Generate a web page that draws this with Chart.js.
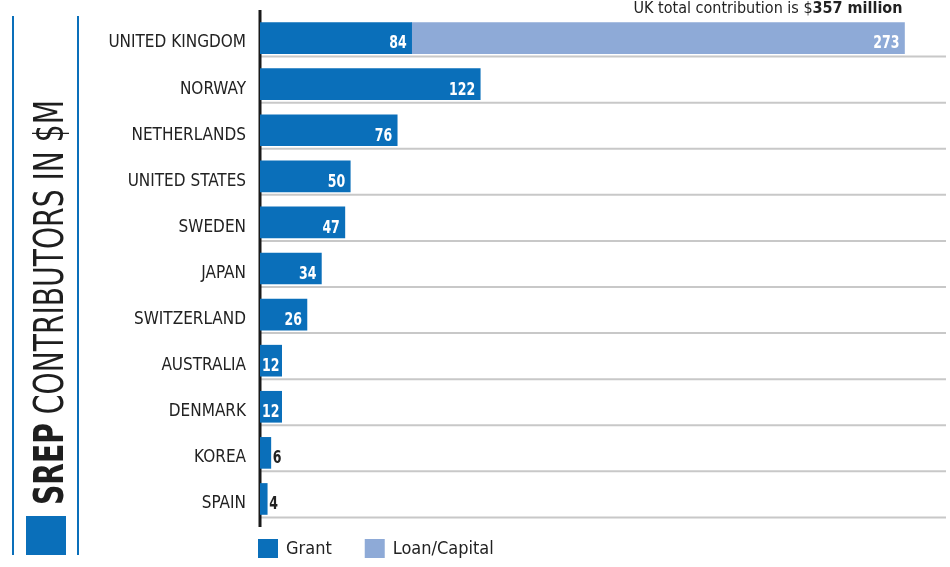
<!DOCTYPE html>
<html>
<head>
<meta charset="utf-8">
<script src="https://cdn.jsdelivr.net/npm/chart.js@4"></script>
<style>
  html, body { margin: 0; padding: 0; background: #fff; }
  #wrap { width: 950px; height: 567px; position: relative; }
</style>
</head>
<body>
<div id="wrap"><canvas id="graphique"></canvas></div>
<script>
// données
var pays = ['UNITED KINGDOM', 'NORWAY', 'NETHERLANDS', 'UNITED STATES', 'SWEDEN', 'JAPAN',
            'SWITZERLAND', 'AUSTRALIA', 'DENMARK', 'KOREA', 'SPAIN'];
var grant = [84, 122, 76, 50, 47, 34, 26, 12, 12, 6, 4];
var loanCapital = [273, null, null, null, null, null, null, null, null, null, null];
var noteTexte = ['UK total contribution is $', '357 million'];
var titreGras = 'SREP';
var titreReste = ' CONTRIBUTORS IN $M';

var BLEU = '#0a6fba';
var BLEU_CLAIR = '#8eaad7';
var POLICE = '"Liberation Sans Narrow", "DejaVu Sans Condensed", "Arial Narrow", sans-serif';
var DEMI_BARRE = 15.5;
var SERRE = 0.82; // compression horizontale des chiffres

// dessin des décorations : titre vertical, lignes de grille, étiquettes, légende
var decor = {
  id: 'decor',
  beforeDatasetsDraw: function(chart) {
    var ctx = chart.ctx, area = chart.chartArea, y = chart.scales.y;
    ctx.save();
    ctx.strokeStyle = '#c8c8c8';
    ctx.lineWidth = 2;
    for (var i = 0; i < pays.length; i++) {
      var py = y.getPixelForValue(i) + DEMI_BARRE + 3;
      ctx.beginPath();
      ctx.moveTo(area.left, py);
      ctx.lineTo(946, py);
      ctx.stroke();
    }
    // l'axe dépasse un peu en haut et en bas
    ctx.strokeStyle = '#1a1a1a';
    ctx.lineWidth = 3;
    ctx.beginPath();
    ctx.moveTo(area.left, 10);
    ctx.lineTo(area.left, 527);
    ctx.stroke();
    ctx.restore();
  },
  afterDraw: function(chart) {
    var ctx = chart.ctx, x = chart.scales.x, y = chart.scales.y, area = chart.chartArea;
    ctx.save();

    // cadre du titre
    ctx.strokeStyle = BLEU;
    ctx.lineWidth = 2;
    ctx.beginPath();
    ctx.moveTo(13, 16); ctx.lineTo(13, 555);
    ctx.moveTo(78, 16); ctx.lineTo(78, 555);
    ctx.stroke();
    ctx.fillStyle = BLEU;
    ctx.fillRect(26, 516, 40, 39);

    // titre vertical
    ctx.save();
    ctx.translate(63, 505);
    ctx.rotate(-Math.PI / 2);
    ctx.font = 'bold 40px ' + POLICE;
    var w1 = ctx.measureText(titreGras).width;
    ctx.font = '40px ' + POLICE;
    var w2 = ctx.measureText(titreReste).width;
    var k = 405 / (w1 + w2);
    ctx.scale(k, 1);
    ctx.fillStyle = '#1e1e1e';
    ctx.textBaseline = 'alphabetic';
    ctx.textAlign = 'left';
    ctx.font = 'bold 40px ' + POLICE;
    ctx.fillText(titreGras, 0, 0);
    ctx.font = '40px ' + POLICE;
    ctx.fillText(titreReste, w1, 0);
    ctx.restore();

    // valeurs des barres
    ctx.font = 'bold 17px ' + POLICE;
    ctx.textBaseline = 'middle';
    chart.data.datasets.forEach(function(ds, d) {
      var meta = chart.getDatasetMeta(d);
      meta.data.forEach(function(bar, i) {
        var v = ds.data[i];
        if (v === null || v === undefined) return;
        var txt = String(v);
        var tw = ctx.measureText(txt).width * SERRE;
        var largeur = bar.x - bar.base;
        var ty = bar.y + 6;
        ctx.save();
        if (largeur >= tw + 3) {
          var marge = Math.min(5, (largeur - tw) / 2);
          ctx.fillStyle = '#fff';
          ctx.textAlign = 'right';
          ctx.translate(bar.x - marge, ty);
        } else {
          ctx.fillStyle = '#222';
          ctx.textAlign = 'left';
          ctx.translate(bar.x + 2, ty);
        }
        ctx.scale(SERRE, 1);
        ctx.fillText(txt, 0, 0);
        ctx.restore();
      });
    });

    // note en haut à droite
    var total = grant[0] + loanCapital[0];
    var xr = x.getPixelForValue(total) - 2;
    ctx.textBaseline = 'alphabetic';
    ctx.textAlign = 'left';
    ctx.font = 'bold 16px ' + POLICE;
    var nb = ctx.measureText(noteTexte[1]).width;
    ctx.font = '16px ' + POLICE;
    var na = ctx.measureText(noteTexte[0]).width;
    ctx.fillStyle = '#222';
    ctx.fillText(noteTexte[0], xr - nb - na, 13);
    ctx.font = 'bold 16px ' + POLICE;
    ctx.fillText(noteTexte[1], xr - nb, 13);

    // légende
    ctx.font = '18px ' + POLICE;
    ctx.textBaseline = 'middle';
    var lx = 258;
    chart.data.datasets.forEach(function(ds) {
      ctx.fillStyle = ds.backgroundColor;
      ctx.fillRect(lx, 539, 20, 19);
      ctx.fillStyle = '#222';
      ctx.fillText(ds.label, lx + 28, 549);
      lx += 28 + ctx.measureText(ds.label).width + 33;
    });

    ctx.restore();
  }
};

document.addEventListener('DOMContentLoaded', function() {
  var ctx = document.getElementById('graphique').getContext('2d');
  var chart = new Chart(ctx, {
    type: 'bar',
    data: {
      labels: pays,
      datasets: [{
        label: 'Grant',
        data: grant,
        backgroundColor: BLEU,
        barThickness: 31
      }, {
        label: 'Loan/Capital',
        data: loanCapital,
        backgroundColor: BLEU_CLAIR,
        barThickness: 31
      }]
    },
    options: {
      indexAxis: 'y',
      responsive: true,
      maintainAspectRatio: false,
      animation: false,
      layout: { padding: { top: 15, right: 4, bottom: 45, left: 0 } },
      plugins: {
        legend: { display: false },
        tooltip: { enabled: false }
      },
      scales: {
        x: {
          stacked: true,
          display: false,
          min: 0,
          max: 380
        },
        y: {
          stacked: true,
          afterFit: function(scale) {
            scale.width = 260;
            scale.paddingTop = 0;
            scale.paddingBottom = 0;
          },
          grid: { display: false, drawTicks: false },
          border: { display: false },
          ticks: {
            padding: 14,
            labelOffset: 5,
            color: '#222',
            font: { family: POLICE, size: 17 }
          }
        }
      }
    },
    plugins: [decor]
  });
});
</script>
</body>
</html>
